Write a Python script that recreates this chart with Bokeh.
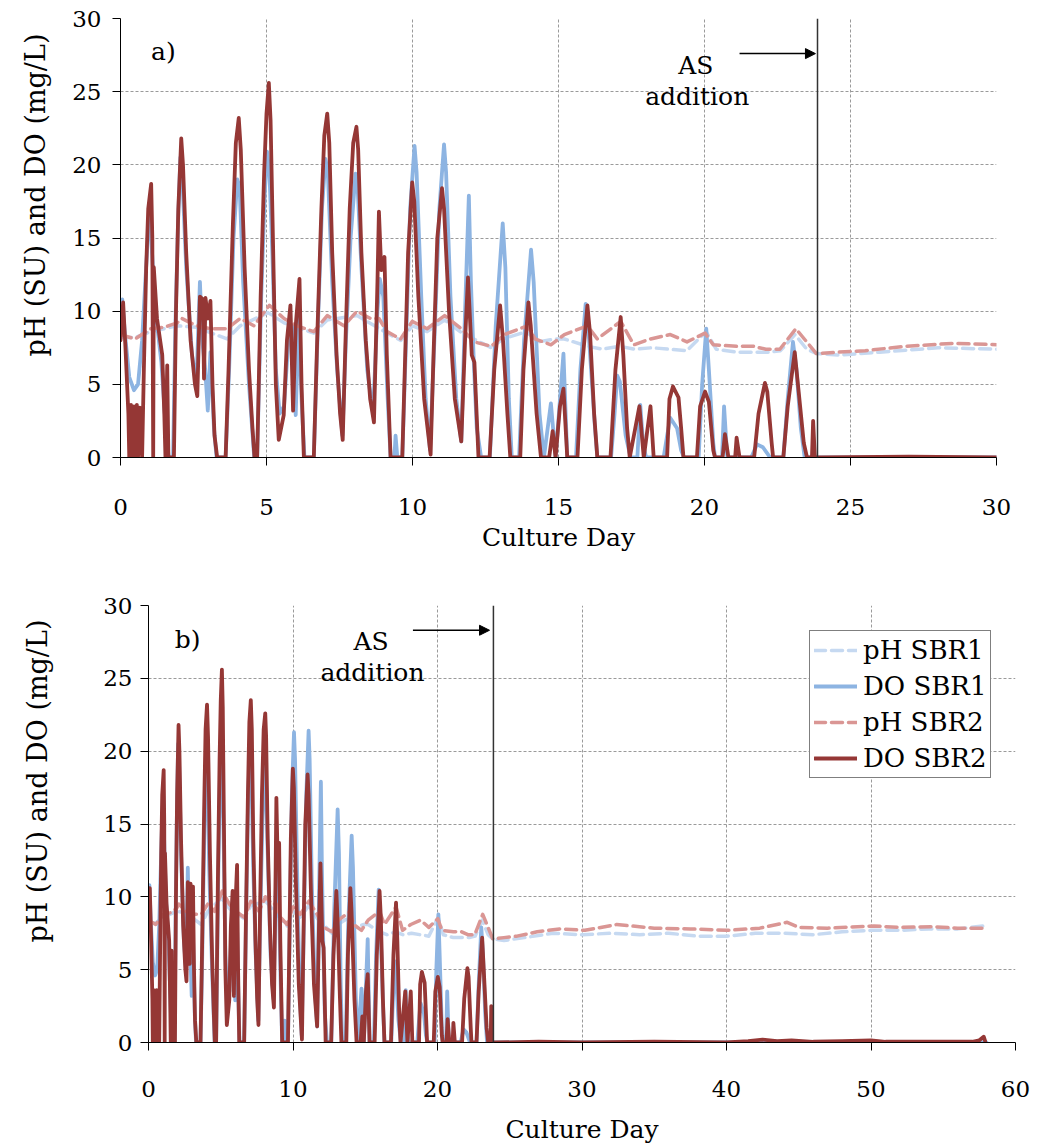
from bokeh.plotting import figure
from bokeh.models import Range1d, FixedTicker, Span, Label, Arrow, NormalHead
from bokeh.embed import file_html
from bokeh.resources import INLINE

# ---------------- data ----------------
do2_day = [0.00, 0.09, 0.17, 0.27, 0.30, 0.36, 0.40, 0.46, 0.50, 0.56, 0.60, 0.66, 0.74, 0.80, 0.88, 0.95,
           1.05, 1.09, 1.12, 1.14, 1.25, 1.43, 1.50, 1.54, 1.60, 1.64, 1.83, 1.90, 1.98, 2.08, 2.14, 2.25,
           2.40, 2.55, 2.63, 2.72, 2.82, 2.86, 2.91, 3.00, 3.08, 3.15, 3.22, 3.31, 3.60, 3.70, 3.85, 3.95,
           4.05, 4.12, 4.25, 4.40, 4.52, 4.59, 4.68, 4.80, 4.92, 5.00, 5.08, 5.14, 5.22, 5.32, 5.42, 5.59,
           5.70, 5.82, 5.91, 6.00, 6.13, 6.20, 6.28, 6.62, 6.75, 6.88, 6.98, 7.08, 7.15, 7.25, 7.40, 7.52,
           7.61, 7.72, 7.85, 7.97, 8.08, 8.14, 8.25, 8.40, 8.55, 8.68, 8.80, 8.85, 8.93, 9.04, 9.12, 9.25,
           9.65, 9.75, 9.85, 9.99, 10.06, 10.20, 10.40, 10.62, 10.72, 10.85, 11.01, 11.08, 11.25, 11.45,
           11.67, 11.80, 11.90, 12.03, 12.12, 12.26, 12.64, 12.80, 13.00, 13.10, 13.25, 13.35, 13.69, 13.80,
           13.97, 14.05, 14.25, 14.40, 14.68, 14.80, 14.90, 15.05, 15.17, 15.30, 15.65, 15.80, 15.99, 16.08,
           16.22, 16.33, 16.78, 16.95, 17.13, 17.22, 17.35, 17.44, 17.77, 17.92, 18.15, 18.26, 18.72, 18.80,
           18.92, 19.11, 19.20, 19.28, 19.74, 19.85, 20.02, 20.15, 20.30, 20.36, 20.62, 20.70, 20.82, 21.05,
           21.10, 21.20, 21.70, 21.85, 22.07, 22.15, 22.30, 22.35, 22.70, 22.85, 23.09, 23.20, 23.40, 23.51,
           23.68, 23.72, 23.78, 24.0, 27.0, 30.0, 35.0, 40.0, 41.5, 42.5, 43.5, 44.5, 46.0, 48.0, 50.0, 51.0,
           55.0, 57.0, 57.5, 57.8, 57.9]
do2_val = [8.0, 10.6, 7.5, 3.0, 0.0, 3.6, 0.0, 3.5, 0.0, 3.6, 0.0, 3.4, 0.0, 6.0, 13.0, 17.0,
           18.7, 15.0, 0.0, 13.0, 9.5, 7.0, 3.0, 0.0, 6.3, 0.0, 0.0, 10.0, 17.0, 21.8, 20.0, 14.0,
           8.0, 5.0, 4.2, 11.0, 10.8, 5.4, 10.9, 9.5, 10.7, 5.0, 1.5, 0.0, 0.0, 6.0, 16.0, 21.5,
           23.2, 21.0, 13.0, 6.0, 2.0, 0.0, 0.0, 11.0, 19.5, 23.5, 25.6, 23.0, 15.0, 5.0, 1.2, 2.9,
           8.0, 10.4, 3.2, 9.0, 12.2, 5.0, 0.0, 0.0, 9.0, 17.0, 22.0, 23.5, 21.5, 14.0, 7.0, 3.0,
           1.2, 9.0, 17.0, 21.5, 22.6, 21.0, 14.0, 8.0, 4.0, 2.4, 12.0, 16.8, 12.8, 13.7, 7.0, 0.0,
           0.0, 7.0, 14.0, 18.8, 17.5, 11.0, 4.0, 0.2, 7.0, 15.0, 18.4, 17.0, 10.0, 4.0,
           1.1, 8.0, 12.3, 7.0, 6.5, 0.0, 0.0, 6.0, 10.4, 8.0, 3.0, 0.0, 0.0, 6.0,
           10.6, 9.0, 3.0, 0.0, 0.0, 1.8, 0.0, 3.5, 4.7, 0.0, 0.0, 6.0, 10.4, 8.5,
           3.0, 0.0, 0.0, 6.0, 9.6, 7.0, 2.0, 0.0, 3.5, 0.0, 3.5, 0.0, 0.0, 4.0,
           4.85, 4.1, 2.0, 0.0, 0.0, 3.5, 4.5, 3.8, 0.5, 0.0, 0.0, 1.6, 0.0, 0.0,
           1.35, 0.0, 0.0, 3.0, 5.1, 4.5, 1.0, 0.0, 0.0, 3.5, 7.2, 5.0, 1.0, 0.0,
           0.0, 2.5, 0.0, 0.0, 0.05, 0.0, 0.05, 0.0, 0.1, 0.2, 0.1, 0.15, 0.05, 0.1, 0.15, 0.05,
           0.05, 0.05, 0.15, 0.4, 0.1]

do1_day = [0.00, 0.06, 0.15, 0.30, 0.46, 0.60, 0.74, 0.85, 0.95, 1.02, 1.08, 1.20, 1.40, 1.55, 1.65, 1.80,
           1.88, 1.97, 2.05, 2.12, 2.25, 2.45, 2.60, 2.72, 2.80, 2.90, 2.99, 3.08, 3.20, 3.29, 3.60, 3.72,
           3.87, 4.00, 4.08, 4.20, 4.40, 4.58, 4.68, 4.82, 4.94, 5.02, 5.10, 5.20, 5.32, 5.45, 5.60, 5.75,
           5.90, 6.00, 6.10, 6.20, 6.30, 6.62, 6.76, 6.90, 7.02, 7.10, 7.25, 7.42, 7.60, 7.72, 7.88, 8.05,
           8.12, 8.25, 8.45, 8.65, 8.80, 8.88, 9.00, 9.15, 9.25, 9.38, 9.42, 9.48, 9.65, 9.78, 9.92, 10.07,
           10.14, 10.30, 10.45, 10.60, 10.75, 10.92, 11.08, 11.15, 11.30, 11.50, 11.67, 11.80, 11.93, 12.00,
           12.10, 12.20, 12.35, 12.65, 12.85, 13.09, 13.18, 13.30, 13.40, 13.65, 13.82, 14.06, 14.15, 14.35,
           14.50, 14.74, 14.90, 15.17, 15.30, 15.60, 15.75, 15.93, 16.05, 16.25, 16.33, 16.80, 16.92, 17.01,
           17.10, 17.30, 17.47, 17.70, 17.80, 17.90, 18.00, 18.60, 18.72, 18.83, 19.06, 19.20, 19.30, 19.80,
           19.92, 20.06, 20.15, 20.30, 20.36, 20.60, 20.67, 20.78, 21.60, 21.80, 22.00, 22.25, 22.70, 22.85,
           23.03, 23.15, 23.30, 23.43, 24.0, 30.0, 36.0, 42.0, 43.0, 44.0, 50.0, 58.0]
do1_val = [9.0, 10.8, 8.5, 5.5, 4.6, 5.0, 8.0, 12.0, 15.5, 16.9, 14.0, 10.0, 6.5, 2.0, 0.0, 0.0,
           9.0, 16.0, 20.5, 19.0, 13.0, 7.0, 5.0, 12.0, 8.0, 6.0, 3.2, 7.2, 2.0, 0.0, 0.0, 6.0,
           15.0, 19.0, 18.5, 12.0, 5.0, 0.0, 0.0, 11.0, 18.0, 20.9, 19.5, 14.0, 6.0, 3.0, 3.5, 8.0,
           9.0, 2.9, 9.5, 4.0, 0.0, 0.0, 9.0, 17.0, 20.4, 19.5, 12.0, 6.0, 1.5, 8.0, 15.0, 19.4,
           18.5, 13.0, 6.0, 3.0, 10.0, 12.2, 11.0, 4.0, 0.0, 0.0, 1.5, 0.0, 0.0, 8.0, 17.0, 21.3,
           19.5, 11.0, 4.0, 0.5, 8.0, 17.0, 21.4, 19.5, 11.0, 4.0, 1.1, 10.0, 17.9, 12.0,
           6.5, 2.0, 0.0, 0.0, 9.0, 16.0, 13.0, 4.0, 0.0, 0.0, 8.0, 14.2, 12.0, 3.0,
           0.0, 3.7, 0.0, 7.1, 0.0, 0.0, 6.0, 10.5, 8.0, 2.0, 0.0, 0.0, 3.0, 5.6,
           5.2, 1.5, 0.0, 0.0, 3.6, 0.9, 0.0, 0.0, 1.5, 2.7, 2.0, 0.5, 0.0, 0.0,
           5.0, 8.8, 6.0, 1.0, 0.0, 0.0, 3.5, 0.0, 0.0, 0.9, 0.7, 0.0, 0.0, 4.0,
           7.9, 6.0, 2.0, 0.0, 0.0, 0.0, 0.0, 0.0, 0.1, 0.0, 0.0, 0.0]

ph2_day = [0.0, 0.5, 1.03, 1.5, 1.94, 2.1, 2.6, 3.08, 3.65, 4.1, 4.57, 5.1, 5.6, 6.05, 6.62, 7.08, 7.65,
           8.1, 8.56, 8.85, 9.13, 9.59, 9.99, 10.5, 11.1, 11.67, 12.12, 12.7, 13.15, 13.94, 14.2, 14.74,
           15.2, 15.99, 16.33, 17.13, 17.58, 18.15, 18.83, 19.4, 20.02, 20.3, 21.1, 21.67, 22.1, 22.58,
           23.13, 23.5, 23.83, 24.6, 25.5, 26.9, 28.5, 30.2, 32.4, 35.0, 37.5, 40.0, 42.3, 44.2, 45.0,
           47.0, 50.2, 52.0, 54.3, 56.0, 57.7]
ph2_val = [8.4, 8.1, 8.8, 8.9, 9.2, 9.5, 9.0, 8.8, 8.8, 9.5, 9.0, 10.4, 9.5, 9.0, 8.6, 9.7, 9.0,
           10.0, 9.5, 9.5, 8.6, 8.1, 9.3, 8.8, 9.7, 8.8, 7.9, 7.6, 8.4, 9.0, 8.1, 7.7,
           8.4, 9.0, 8.1, 9.3, 7.7, 8.1, 8.4, 7.9, 8.5, 7.7, 7.6, 7.6, 7.4, 7.4,
           8.8, 7.9, 7.1, 7.2, 7.3, 7.6, 7.8, 7.7, 8.1, 7.85, 7.8, 7.7, 7.85, 8.25, 7.9,
           7.85, 8.0, 7.9, 7.95, 7.85, 7.85]

ph1_day = [0.0, 0.5, 1.03, 1.94, 2.6, 3.65, 4.1, 5.05, 5.6, 6.62, 7.08, 8.1, 9.13, 9.6, 10.0, 10.5, 11.1,
           11.7, 12.2, 12.7, 13.1, 13.9, 14.3, 14.9, 15.2, 16.0, 16.5, 17.1, 17.6, 18.2, 18.8, 19.4,
           20.05, 20.4, 21.1, 21.7, 22.2, 22.6, 23.1, 23.5, 23.85, 24.6, 26.0, 28.0, 30.0, 32.0, 34.0,
           36.0, 38.0, 40.0, 42.0, 44.0, 46.0, 48.0, 50.0, 52.0, 54.0, 56.0, 57.8]
ph1_val = [8.2, 8.2, 8.6, 9.0, 8.9, 8.1, 9.0, 9.9, 9.2, 8.5, 9.4, 9.7, 8.5, 8.0, 9.0, 8.6, 9.4,
           8.5, 8.0, 7.5, 8.1, 8.6, 7.9, 8.1, 8.1, 7.6, 7.4, 7.6, 7.4, 7.5, 7.4, 7.3,
           8.6, 7.4, 7.2, 7.2, 7.2, 7.3, 8.4, 7.4, 7.1, 7.0, 7.2, 7.5, 7.4, 7.5, 7.4,
           7.5, 7.3, 7.3, 7.5, 7.5, 7.4, 7.6, 7.7, 7.7, 7.8, 7.8, 8.0]

series_names = ["pH SBR1", "DO SBR1", "pH SBR2", "DO SBR2"]
y_title = "pH (SU) and DO (mg/L)"
x_title = "Culture Day"
as_day = 23.87

FONT = "DejaVu Serif"
C_PH1, C_DO1, C_PH2, C_DO2 = "#c6d9f1", "#8db4e2", "#da9694", "#953735"
PAD = "\u00a0" * 10   # shifts the y title upward like in the original


def txt(p, x, y, s):
    p.add_layout(Label(x=x, y=y, text=s, text_font=FONT, text_font_size="25px", text_color="black",
                       text_align="center", text_baseline="middle"))


def make(xmax, xstep, width, height, mb_left, mb_right, mb_top, mb_bottom,
         ytick_stand, ylab_stand, xtick_stand, xlab_stand, legend):
    p = figure(width=width, height=height, x_range=Range1d(0, xmax), y_range=Range1d(0, 30),
               output_backend="svg", toolbar_location=None,
               min_border_left=mb_left, min_border_right=mb_right,
               min_border_top=mb_top, min_border_bottom=mb_bottom)
    p.outline_line_color = None
    p.background_fill_color = "white"
    p.border_fill_color = "white"
    p.xaxis.ticker = FixedTicker(ticks=list(range(0, xmax + 1, xstep)))
    p.yaxis.ticker = FixedTicker(ticks=list(range(0, 31, 5)))
    for ax in (p.xaxis[0], p.yaxis[0]):
        ax.axis_line_color = "black"
        ax.major_tick_line_color = "black"
        ax.major_tick_out = 8
        ax.major_tick_in = 0
        ax.minor_tick_line_color = None
        ax.major_label_text_font = FONT
        ax.major_label_text_font_size = "23px"
        ax.major_label_text_color = "black"
        ax.axis_label_text_font = FONT
        ax.axis_label_text_font_style = "normal"
        ax.axis_label_text_color = "black"
    p.xaxis.axis_label = x_title
    p.xaxis.axis_label_text_font_size = "25px"
    p.yaxis.axis_label = PAD + y_title
    p.yaxis.axis_label_text_font_size = "27px"
    p.xaxis.major_label_standoff = xtick_stand
    p.xaxis.axis_label_standoff = xlab_stand
    p.yaxis.major_label_standoff = ytick_stand
    p.yaxis.axis_label_standoff = ylab_stand
    for g in (p.xgrid[0], p.ygrid[0]):
        g.grid_line_color = "#9a9a9a"
        g.grid_line_dash = "3 2"
        g.grid_line_width = 1

    kw = dict(line_join="round", line_cap="round")
    specs = [(ph1_day, ph1_val, C_PH1, "11 6"), (do1_day, do1_val, C_DO1, None),
             (ph2_day, ph2_val, C_PH2, "11 6"), (do2_day, do2_val, C_DO2, None)]
    for (xs, ys, col, dash), name in zip(specs, series_names):
        extra = {"legend_label": name} if legend else {}
        if dash:
            p.line(xs, ys, line_color=col, line_width=3.5, line_dash=dash, **extra, **kw)
        else:
            p.line(xs, ys, line_color=col, line_width=3.8, **extra, **kw)

    p.add_layout(Span(location=as_day, dimension="height", line_color="#333333", line_width=1.5))
    return p


# ---------------- panel a ----------------
pa = make(30, 5, 1038, 575, 120, 42, 18, 118, 11, 18, 33, 5, False)
txt(pa, 1.47, 27.75, "a)")
txt(pa, 19.7, 26.8, "AS")
txt(pa, 19.75, 24.7, "addition")
pa.add_layout(Arrow(x_start=21.2, y_start=27.6, x_end=23.8, y_end=27.6, line_width=1.5,
                    end=NormalHead(size=10, fill_color="black", line_color="black")))

# ---------------- panel b ----------------
pb = make(60, 10, 1038, 573, 148, 23, 30, 106, 8, 47, 30, 15, True)
txt(pb, 2.7, 27.66, "b)")
txt(pb, 15.4, 27.5, "AS")
txt(pb, 15.5, 25.4, "addition")
pb.add_layout(Arrow(x_start=18.3, y_start=28.3, x_end=23.6, y_end=28.3, line_width=1.5,
                    end=NormalHead(size=10, fill_color="black", line_color="black")))

lg = pb.legend[0]
lg.location = (661, 264)
lg.label_text_font = FONT
lg.label_text_font_size = "26px"
lg.label_text_color = "black"
lg.label_height = 30
lg.glyph_height = 30
lg.glyph_width = 43
lg.label_standoff = 6
lg.spacing = 6
lg.padding = 4
lg.margin = 0
lg.border_line_color = "black"
lg.border_line_width = 1
lg.background_fill_alpha = 1

open("out.html", "w").write(file_html([pa, pb], INLINE))
